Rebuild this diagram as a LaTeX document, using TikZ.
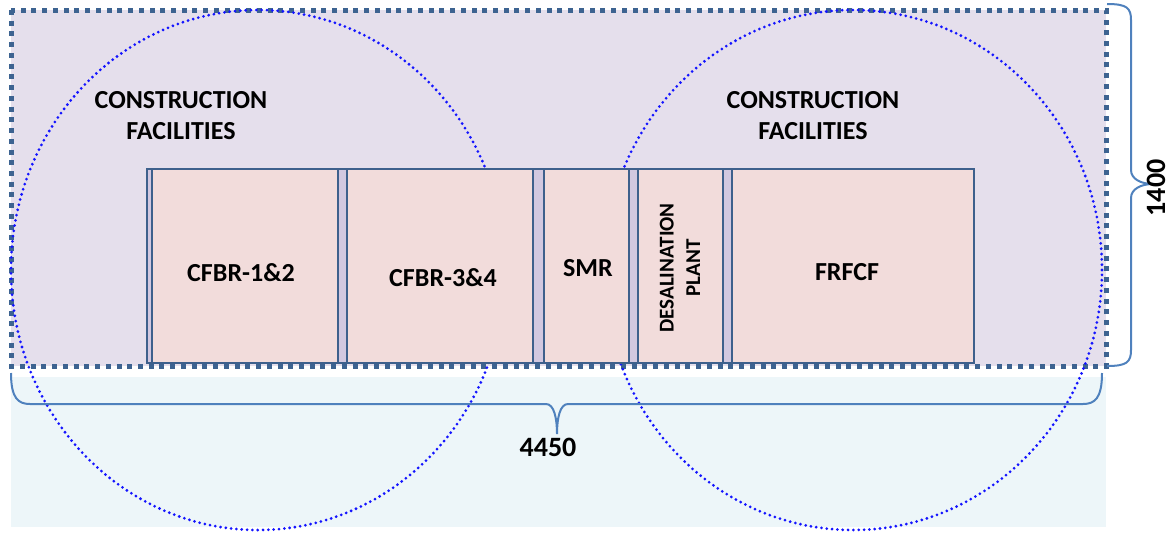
\documentclass[tikz,border=0pt]{standalone}
\usepackage{fontspec}
\setmainfont{Carlito}
\definecolor{lavbg}{RGB}{229,223,236}
\definecolor{stripfill}{RGB}{210,200,224}
\definecolor{pinkfill}{RGB}{242,220,219}
\definecolor{paleblue}{RGB}{237,246,249}
\definecolor{edgeblue}{RGB}{62,96,140}
\definecolor{dotblue}{RGB}{61,99,145}
\definecolor{ringblue}{RGB}{20,20,255}
\definecolor{braceblue}{RGB}{79,129,189}
\tikzset{
  site/.style={fill=lavbg},
  siteedge/.style={draw=dotblue, line width=3.75pt, dash pattern=on 3.75pt off 4.3pt},
  zone/.style={fill=paleblue},
  stripbox/.style={draw=edgeblue, fill=stripfill, line width=1.4pt},
  unitbox/.style={draw=edgeblue, fill=pinkfill, line width=1.4pt},
  ring/.style={draw=ringblue, line width=2.3pt, line cap=round, dash pattern=on 0pt off 4pt},
  bracket/.style={draw=braceblue, line width=1.5pt},
  lbl/.style={inner sep=0pt, align=center, font=\bfseries\fontsize{19.5}{23.25}\selectfont},
  smalllbl/.style={inner sep=0pt, align=center, font=\bfseries\fontsize{15.8}{19.9}\selectfont},
  dimlbl/.style={inner sep=0pt, font=\bfseries\fontsize{21}{24}\selectfont}
}
\begin{document}
\begin{tikzpicture}[x=0.75pt, y=-0.75pt]
\useasboundingbox (0,0) rectangle (1171,533);

% lower pale zone and site area
\fill[zone] (11,377) rectangle (1106,527);
\fill[site] (11,10) rectangle (1106,366);
\draw[siteedge] (11,10) rectangle (1106,366);

% construction facility radii
\draw[ring] (258,270) ellipse [x radius=185.25pt, y radius=195pt];
\draw[ring] (853,270) ellipse [x radius=186.75pt, y radius=195pt];

% row of units on a common strip
\draw[stripbox] (147,169) rectangle (974,363);
\draw[unitbox] (152,169) rectangle (338,363);
\draw[unitbox] (347,169) rectangle (533,363);
\draw[unitbox] (544,169) rectangle (629,363);
\draw[unitbox] (638,169) rectangle (723,363);
\draw[unitbox] (732,169) rectangle (974,363);

% labels
\node[lbl] (cfl) at (181,116) {CONSTRUCTION\\FACILITIES};
\node[lbl] (cfr) at (813,116) {CONSTRUCTION\\FACILITIES};
\node[lbl] (cfbr12) at (241,273) {CFBR-1\&2};
\node[lbl] (cfbr34) at (443,278) {CFBR-3\&4};
\node[lbl] (smr) at (588,268) {SMR};
\node[smalllbl, rotate=90] (desal) at (680,268) {DESALINATION\\PLANT};
\node[lbl] (frfcf) at (847,272) {FRFCF};

% overall dimensions
\coordinate (bl) at (11,373);
\coordinate (bt) at (557,434);
\coordinate (br) at (1102,373);
\draw[bracket] (bl) .. controls +(0,25) and +(-12,0) .. (30,404) -- (546,404)
  .. controls +(8,0) and +(0,-16) .. (bt)
  .. controls +(0,-16) and +(-8,0) .. (568,404) -- (1083,404)
  .. controls +(12,0) and +(0,25) .. (br);
\node[dimlbl] (len) at (548,447) {4450};

\coordinate (rt) at (1107,4);
\coordinate (rtip) at (1153,184);
\coordinate (rb) at (1107,366);
\draw[bracket] (rt) .. controls +(20,0) and +(0,-12) .. (1131,20) -- (1131,170)
  .. controls +(0,9) and +(-12,0) .. (rtip)
  .. controls +(-12,0) and +(0,-9) .. (1131,198) -- (1131,350)
  .. controls +(0,12) and +(20,0) .. (rb);
\node[dimlbl, rotate=90] (wid) at (1156,188) {1400};
\end{tikzpicture}
\end{document}
